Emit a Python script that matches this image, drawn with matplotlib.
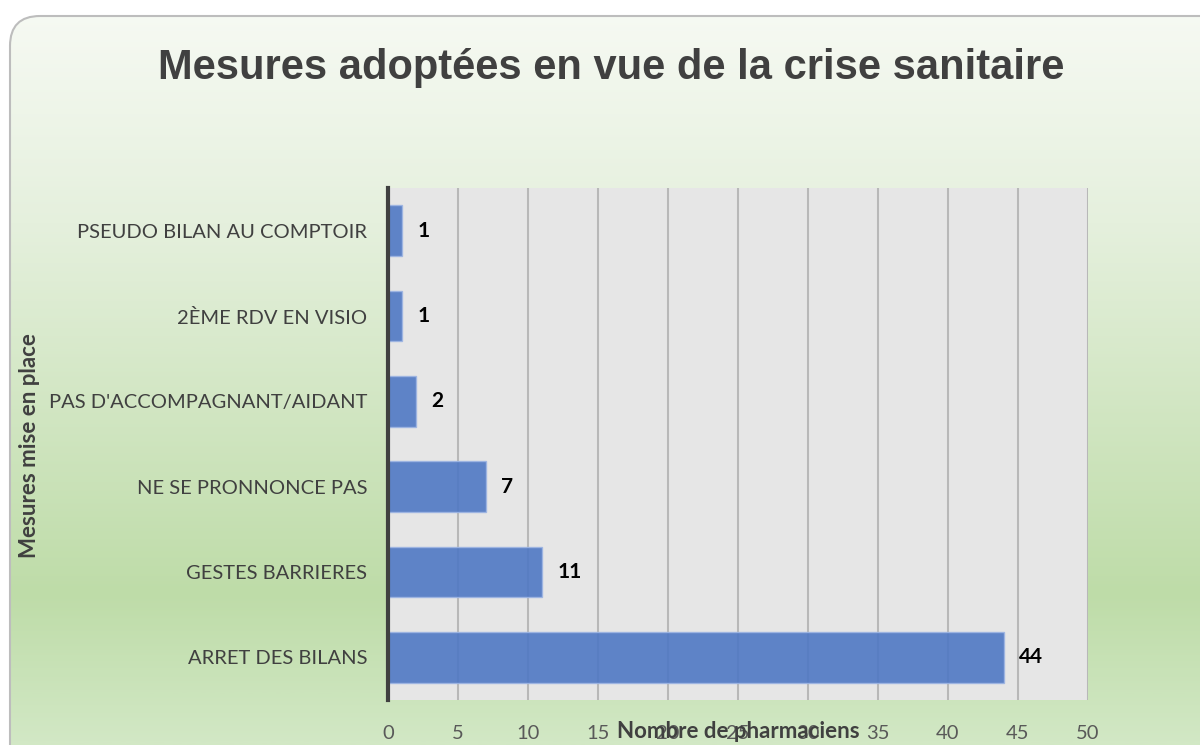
import numpy as np
import matplotlib.pyplot as plt
from matplotlib.patches import FancyBboxPatch
from matplotlib.colors import LinearSegmentedColormap

categories = ["ARRET DES BILANS", "GESTES BARRIERES", "NE SE PRONNONCE PAS",
              "PAS D'ACCOMPAGNANT/AIDANT", "2ÈME RDV EN VISIO", "PSEUDO BILAN AU COMPTOIR"]
values = [44, 11, 7, 2, 1, 1]
x_ticks = [0, 5, 10, 15, 20, 25, 30, 35, 40, 45, 50]

plt.rcParams['font.family'] = ['Lato', 'DejaVu Sans']

fig = plt.figure(figsize=(12, 7.45), dpi=100)
fig.patch.set_facecolor("white")

# background with gradient inside a rounded frame
bg = fig.add_axes([0, 0, 1, 1], zorder=-10)
bg.set_xlim(0, 1200)
bg.set_ylim(745, 0)
bg.axis("off")
cmap = LinearSegmentedColormap.from_list(
    "bg", [(0, "#f7faf4"), (0.3, "#e5f0dd"), (0.8, "#bedca8"), (1, "#d2e8c5")])
grad = np.linspace(0, 1, 300).reshape(-1, 1)
im = bg.imshow(grad, cmap=cmap, extent=[0, 1200, 745, 0], aspect="auto")
frame = FancyBboxPatch((10, 16), 1250, 800, boxstyle="round,pad=0,rounding_size=30",
                       facecolor="none", edgecolor="#bdbdbd", linewidth=1.5)
bg.add_patch(frame)
im.set_clip_path(frame)

ax = fig.add_axes([388 / 1200, 1 - 700 / 745, 700 / 1200, 512 / 745])
ax.set_facecolor("#e6e6e6")
y = np.arange(len(categories))
bars = ax.barh(y, values, height=0.59, color="#4f78c4", alpha=0.9,
               edgecolor="#9db5e3", linewidth=1, zorder=3)
for b, v in zip(bars, values):
    ax.text(v + 1.1, b.get_y() + b.get_height() / 2, str(v), va="center", ha="left",
            fontsize=15, fontweight="bold", color="black", zorder=4)

ax.set_xlim(0, 50)
ax.set_ylim(-0.5, 5.5)
ax.set_xticks(x_ticks)
ax.set_yticks(y)
ax.set_yticklabels(categories, fontsize=14.5, color="#404040")
ax.tick_params(axis="x", labelsize=14.5, colors="#595959", length=0, pad=18)
ax.tick_params(axis="y", length=0, pad=15)
ax.grid(axis="x", color="#b8b8b8", linewidth=1.5, zorder=1)
ax.set_axisbelow(True)
for s in ["top", "right", "bottom"]:
    ax.spines[s].set_visible(False)
ax.spines["left"].set_color("#404040")
ax.spines["left"].set_linewidth(3)
ax.spines["left"].set_zorder(5)

# axis titles sit where the original puts them (the x one over the tick labels)
fig.text(738 / 1200, 1 - 732 / 745, "Nombre de pharmaciens", ha="center", va="center",
         fontsize=16, fontweight="bold", color="#404040")
fig.text(30 / 1200, 1 - 446 / 745, "Mesures mise en place", ha="center", va="center",
         rotation=90, fontsize=16, fontweight="bold", color="#404040")
fig.text(611 / 1200, 1 - 68 / 745, "Mesures adoptées en vue de la crise sanitaire",
         ha="center", va="center", fontsize=30, fontweight="bold", color="#404040",
         family=["Liberation Sans", "DejaVu Sans"])

fig.savefig("out.png", dpi=100)
